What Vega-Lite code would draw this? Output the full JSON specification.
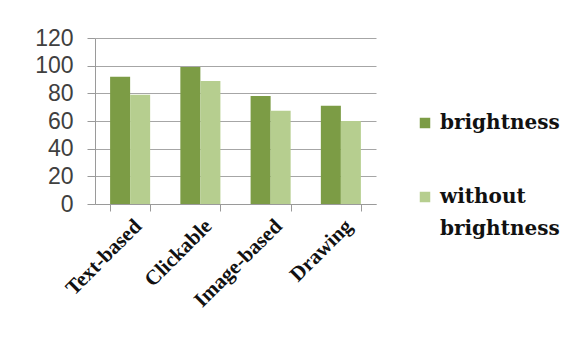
{
  "$schema": "https://vega.github.io/schema/vega-lite/v6.json",
  "autosize": "none",
  "width": 281,
  "height": 166,
  "padding": {"left": 95, "top": 38, "right": 201, "bottom": 134},
  "background": "white",
  "data": {
    "values": [
      {"category": "Text-based", "series": "brightness", "value": 92},
      {"category": "Text-based", "series": "without brightness", "value": 79},
      {"category": "Clickable", "series": "brightness", "value": 99},
      {"category": "Clickable", "series": "without brightness", "value": 89},
      {"category": "Image-based", "series": "brightness", "value": 78},
      {"category": "Image-based", "series": "without brightness", "value": 67.5},
      {"category": "Drawing", "series": "brightness", "value": 71},
      {"category": "Drawing", "series": "without brightness", "value": 60}
    ]
  },
  "mark": {"type": "bar"},
  "encoding": {
    "x": {
      "field": "category",
      "type": "nominal",
      "sort": ["Text-based", "Clickable", "Image-based", "Drawing"],
      "scale": {"paddingInner": 0.43, "paddingOuter": 0.215},
      "axis": {
        "title": null,
        "labelAngle": -45,
        "labelAlign": "right",
        "labelBaseline": "top",
        "labelFont": "Liberation Serif",
        "labelFontWeight": "bold",
        "labelFontSize": 21,
        "labelColor": "#111111",
        "labelPadding": 4,
        "tickBand": "extent",
        "tickSize": 7,
        "tickColor": "#9a9a9a",
        "domainColor": "#9a9a9a",
        "grid": false
      }
    },
    "xOffset": {"field": "series", "type": "nominal", "sort": ["brightness", "without brightness"]},
    "y": {
      "field": "value",
      "type": "quantitative",
      "scale": {"domain": [0, 120]},
      "axis": {
        "title": null,
        "values": [0, 20, 40, 60, 80, 100, 120],
        "labelFont": "Liberation Sans",
        "labelFontSize": 23,
        "labelColor": "#404040",
        "labelPadding": 14,
        "tickSize": 8,
        "tickColor": "#9a9a9a",
        "domainColor": "#9a9a9a",
        "gridColor": "#a6a6a6",
        "gridWidth": 1
      }
    },
    "color": {
      "field": "series",
      "type": "nominal",
      "sort": ["brightness", "without brightness"],
      "scale": {"domain": ["brightness", "without brightness"], "range": ["#7C9C45", "#B6CE8F"]},
      "legend": {
        "title": null,
        "orient": "none",
        "legendX": 320,
        "legendY": 75,
        "symbolType": "square",
        "symbolSize": 110,
        "symbolStrokeWidth": 0,
        "labelFont": "DejaVu Serif",
        "labelFontWeight": "bold",
        "labelFontSize": 20,
        "labelColor": "#111111",
        "labelOffset": 5,
        "rowPadding": 54,
        "labelLimit": 250,
        "labelExpr": "datum.label == 'without brightness' ? ['without', 'brightness'] : datum.label",
        "encode": {
          "labels": {
            "update": {
              "lineHeight": {"value": 32}
            }
          }
        }
      }
    }
  },
  "config": {
    "view": {"stroke": null},
    "axis": {"domainWidth": 1}
  }
}
